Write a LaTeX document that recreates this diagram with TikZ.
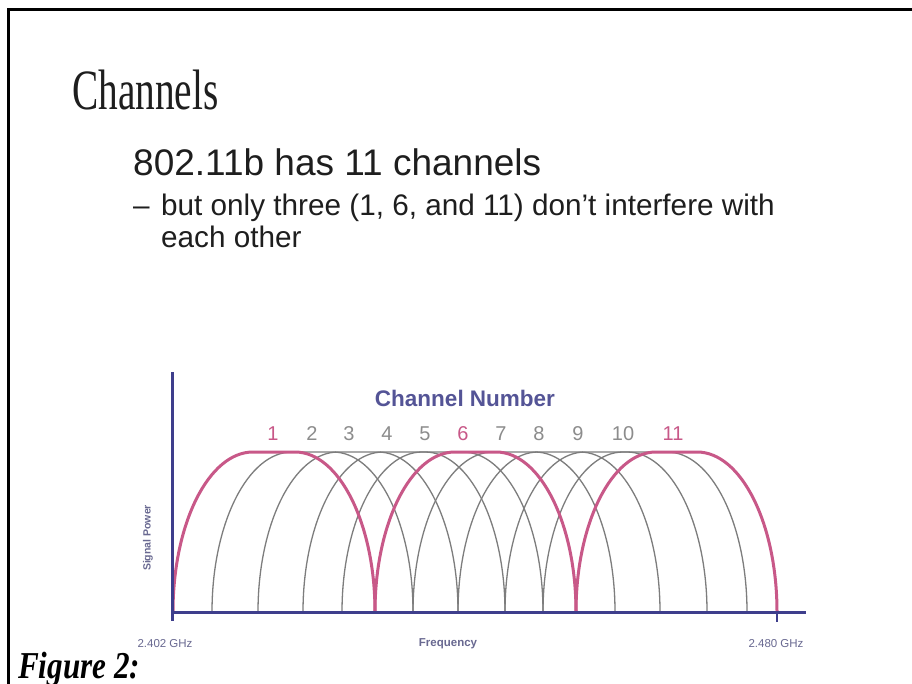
\documentclass[tikz,border=0pt]{standalone}
\usepackage{fontspec}
\setmainfont{Liberation Serif}
\setsansfont{Liberation Sans}
\usepackage{graphicx}
\definecolor{pinkc}{RGB}{200,88,136}
\definecolor{grayc}{RGB}{125,125,125}
\definecolor{navyc}{RGB}{62,62,140}
\definecolor{labnavy}{RGB}{84,84,150}
\definecolor{numgray}{RGB}{140,140,140}
\definecolor{smalllab}{RGB}{105,105,145}
\definecolor{textc}{RGB}{30,30,30}
\newcommand{\chanarch}[3]{%
  \draw[#3] (#1,612) .. controls (#1,523.6) and (#1+35.8,452) .. (#1+80,452)
    -- (#2-80,452) .. controls (#2-35.8,452) and (#2,523.6) .. (#2,612);}
\tikzset{
  txt/.style={inner sep=0pt, anchor=base west, text=textc},
  graych/.style={draw=grayc, line width=1.3pt},
  pinkch/.style={draw=pinkc, line width=3pt},
  axisline/.style={draw=navyc, line width=3pt},
  chnum/.style={inner sep=0pt, anchor=base, font=\sffamily\fontsize{20}{22}\selectfont, text=numgray},
  chnumpink/.style={chnum, text=pinkc},
  smalllabel/.style={inner sep=0pt, font=\sffamily\fontsize{11.5}{13}\selectfont, text=smalllab}
}
\begin{document}
\begin{tikzpicture}[x=1pt,y=-1pt]
\useasboundingbox (0,0) rectangle (912,684);
\fill[white] (0,0) rectangle (912,684);
% frame
\coordinate (fl) at (8,684);
\coordinate (fc) at (8,10);
\coordinate (fr) at (912,10);
\draw[line width=3pt, black] (fl) -- (fc) -- (fr);
% texts
\node[txt] (title) at (72,110) {\fontsize{57}{60}\selectfont\scalebox{0.69}[1]{Channels}};
\node[txt] (l1) at (133,176) {\sffamily\fontsize{37}{40}\selectfont 802.11b has 11 channels};
\node[txt] (dash) at (133,216) {\sffamily\fontsize{29.7}{32}\selectfont –};
\node[txt] (l2) at (161,216) {\sffamily\fontsize{29.7}{32}\selectfont but only three (1, 6, and 11) don't interfere with};
\node[txt] (l3) at (161,248) {\sffamily\fontsize{29.7}{32}\selectfont each other};
% chart
\node[inner sep=0pt, anchor=base, font=\sffamily\bfseries\fontsize{22.5}{24}\selectfont, text=labnavy] (cn) at (465,406) {Channel Number};
\node[chnumpink] (n1) at (273,440) {1};
\node[chnum] (n2) at (312,440) {2};
\node[chnum] (n3) at (349,440) {3};
\node[chnum] (n4) at (387,440) {4};
\node[chnum] (n5) at (425,440) {5};
\node[chnumpink] (n6) at (463,440) {6};
\node[chnum] (n7) at (501,440) {7};
\node[chnum] (n8) at (539,440) {8};
\node[chnum] (n9) at (578,440) {9};
\node[chnum] (n10) at (623,440) {10};
\node[chnumpink] (n11) at (673,440) {11};
% gray arches
\chanarch{212}{413}{graych}
\chanarch{258}{458}{graych}
\chanarch{303}{505}{graych}
\chanarch{342}{543}{graych}
\chanarch{413}{615}{graych}
\chanarch{458}{660}{graych}
\chanarch{505}{707}{graych}
\chanarch{543}{747}{graych}
% pink arches
\chanarch{173}{375}{pinkch}
\chanarch{375}{576}{pinkch}
\chanarch{576}{777}{pinkch}
% axes
\coordinate (ytop) at (172,372);
\coordinate (ybot) at (172,621);
\coordinate (xl) at (172,612);
\coordinate (xr) at (806,612);
\coordinate (tk1) at (777,612);
\coordinate (tk2) at (777,622);
\draw[axisline] (ytop) -- (ybot);
\draw[axisline] (xl) -- (xr);
\draw[draw=navyc, line width=1.5pt] (tk1) -- (tk2);
\node[smalllabel, font=\sffamily\bfseries\fontsize{10.5}{12}\selectfont, rotate=90] (sp) at (148,538) {Signal Power};
\node[smalllabel] (f1) at (165,644) {2.402 GHz};
\node[smalllabel] (f2) at (776,644) {2.480 GHz};
\node[smalllabel, font=\sffamily\bfseries\fontsize{11.5}{13}\selectfont] (fq) at (448,644) {Frequency};
\node[inner sep=0pt, anchor=base west, font=\bfseries\itshape\fontsize{38}{42}\selectfont] (fig) at (18,678) {\scalebox{0.82}[1]{Figure 2:}};
\end{tikzpicture}
\end{document}
